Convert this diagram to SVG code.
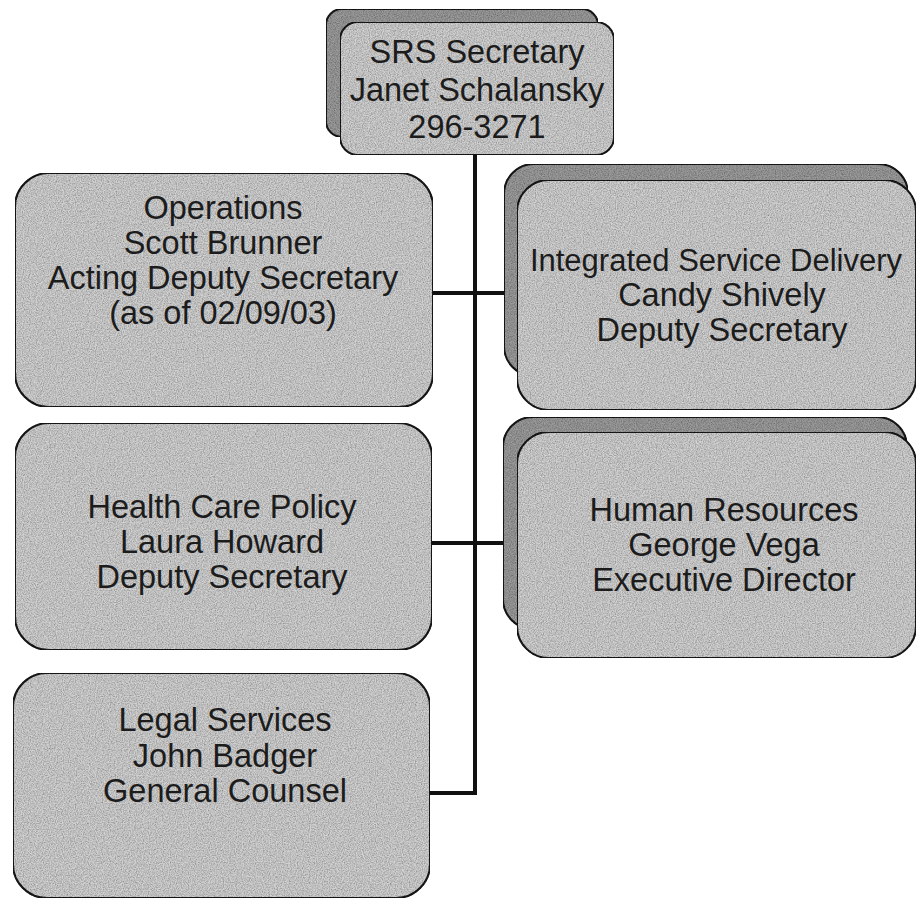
<svg xmlns="http://www.w3.org/2000/svg" width="918" height="902" viewBox="0 0 918 902">
<defs>
<filter id="grain" x="0" y="0" width="100%" height="100%">
<feTurbulence type="fractalNoise" baseFrequency="0.85" numOctaves="2" seed="3" result="t"/>
<feColorMatrix in="t" type="matrix" values="0 0 0 0 0  0 0 0 0 0  0 0 0 0 0  1.0 0 0 0 -0.3" result="n"/>
<feComposite in="n" in2="SourceGraphic" operator="in" result="c"/>
<feMerge><feMergeNode in="SourceGraphic"/><feMergeNode in="c"/></feMerge>
</filter>
<style>
.box{fill:#d2d2d2;stroke:#1a1a1a;stroke-width:2;filter:url(#grain)}
.shadow{fill:#9c9c9c;stroke:#1a1a1a;stroke-width:2;filter:url(#grain)}
.t{font-family:"Liberation Sans",Arial,sans-serif;font-size:32.5px;fill:#1c1c1c;text-anchor:middle}
.link{stroke:#111;stroke-width:4;fill:none}
</style>
</defs>
<rect width="918" height="902" fill="#ffffff"/>

<g id="connectors">
<line class="link" x1="475" y1="155" x2="475" y2="795"/>
<line class="link" x1="432" y1="293" x2="518" y2="293"/>
<line class="link" x1="432" y1="543" x2="518" y2="543"/>
<line class="link" x1="430" y1="793" x2="477" y2="793"/>
</g>

<g id="secretary">
<rect class="shadow" x="326" y="9" width="272" height="128" rx="16"/>
<rect class="box" x="340" y="22" width="274" height="133" rx="18"/>
<text class="t" x="477" y="63">SRS Secretary</text>
<text class="t" x="477" y="101">Janet Schalansky</text>
<text class="t" x="477" y="138">296-3271</text>
</g>

<g id="operations">
<rect class="box" x="15" y="173" width="418" height="234" rx="34"/>
<text class="t" x="223" y="219">Operations</text>
<text class="t" x="223" y="254">Scott Brunner</text>
<text class="t" x="223" y="289">Acting Deputy Secretary</text>
<text class="t" x="223" y="324">(as of 02/09/03)</text>
</g>

<g id="isd">
<rect class="shadow" x="504" y="164" width="404" height="212" rx="30"/>
<rect class="box" x="517" y="180" width="399" height="230" rx="32"/>
<text class="t" x="716" y="271" style="font-size:31px">Integrated Service Delivery</text>
<text class="t" x="722" y="306">Candy Shively</text>
<text class="t" x="722" y="341">Deputy Secretary</text>
</g>

<g id="hcp">
<rect class="box" x="15" y="423" width="417" height="227" rx="34"/>
<text class="t" x="222" y="518">Health Care Policy</text>
<text class="t" x="222" y="553">Laura Howard</text>
<text class="t" x="222" y="588">Deputy Secretary</text>
</g>

<g id="hr">
<rect class="shadow" x="503" y="417" width="404" height="212" rx="30"/>
<rect class="box" x="517" y="432" width="399" height="226" rx="32"/>
<text class="t" x="724" y="521">Human Resources</text>
<text class="t" x="724" y="556">George Vega</text>
<text class="t" x="724" y="591">Executive Director</text>
</g>

<g id="legal">
<rect class="box" x="13" y="673" width="417" height="225" rx="34"/>
<text class="t" x="225" y="731">Legal Services</text>
<text class="t" x="225" y="767">John Badger</text>
<text class="t" x="225" y="802">General Counsel</text>
</g>
</svg>
